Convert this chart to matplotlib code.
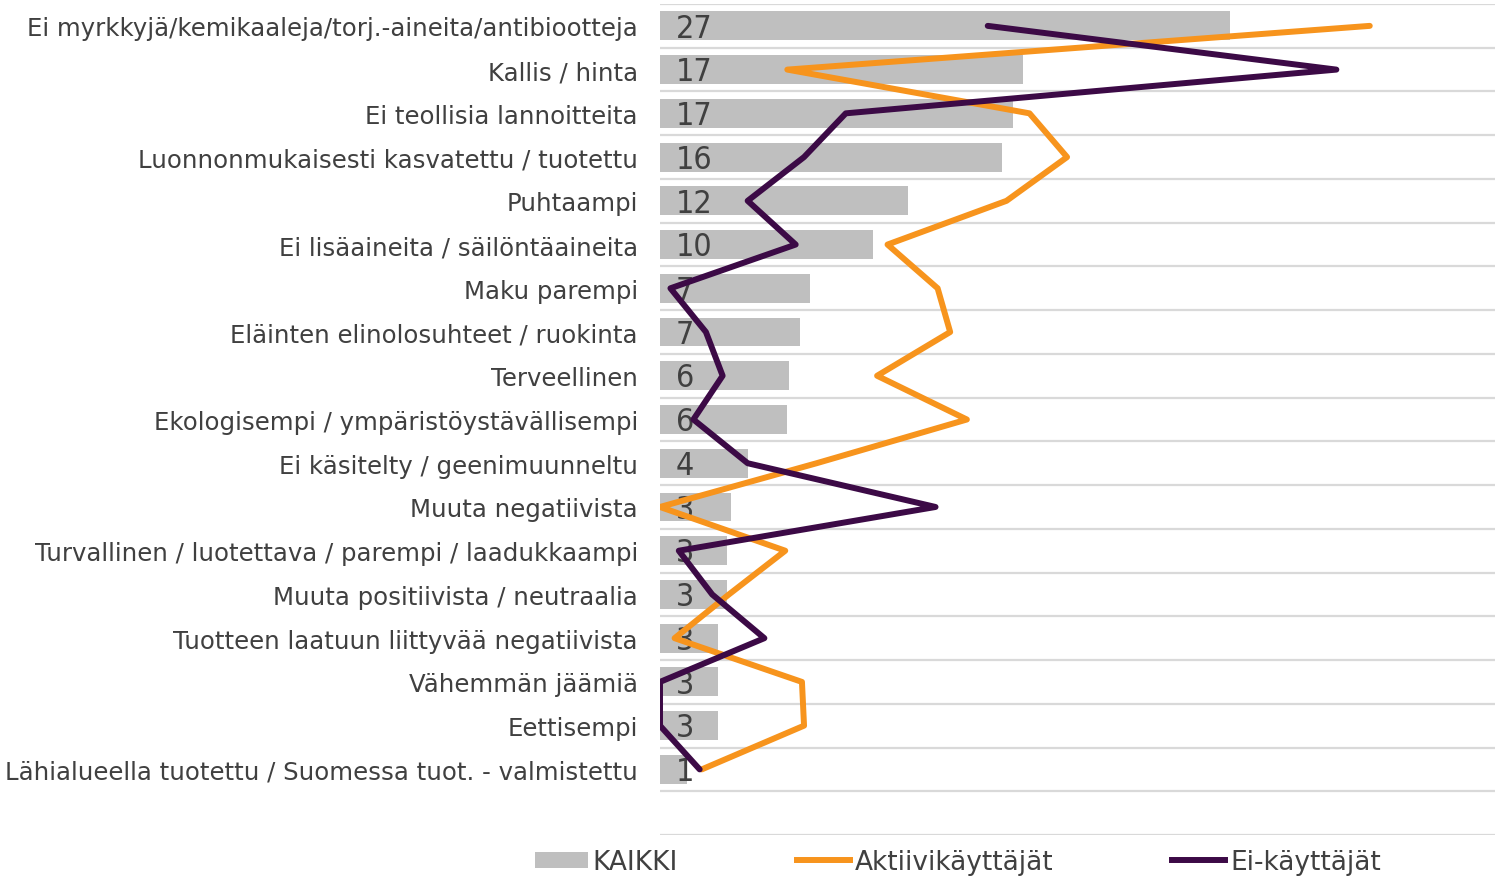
import numpy as np
import matplotlib.pyplot as plt
from matplotlib.patches import Patch
from matplotlib.lines import Line2D

# Kategoriat (ylhäältä alas)
kategoriat = [
    "Ei myrkkyjä/kemikaaleja/torj.-aineita/antibiootteja",
    "Kallis / hinta",
    "Ei teollisia lannoitteita",
    "Luonnonmukaisesti kasvatettu / tuotettu",
    "Puhtaampi",
    "Ei lisäaineita / säilöntäaineita",
    "Maku parempi",
    "Eläinten elinolosuhteet / ruokinta",
    "Terveellinen",
    "Ekologisempi / ympäristöystävällisempi",
    "Ei käsitelty / geenimuunneltu",
    "Muuta negatiivista",
    "Turvallinen / luotettava / parempi / laadukkaampi",
    "Muuta positiivista / neutraalia",
    "Tuotteen laatuun liittyvää negatiivista",
    "Vähemmän jäämiä",
    "Eettisempi",
    "Lähialueella tuotettu / Suomessa tuot. - valmistettu",
]

# Arvot (%) luettu kuvasta
kaikki = [27.3, 17.4, 16.9, 16.4, 11.9, 10.2, 7.2, 6.7, 6.2, 6.1,
          4.2, 3.4, 3.2, 3.2, 2.8, 2.8, 2.8, 1.3]
aktiivi = [34.0, 6.1, 17.7, 19.5, 16.6, 10.9, 13.3, 13.9, 10.4, 14.7,
           7.5, 0.0, 6.0, 3.3, 0.7, 6.8, 6.9, 2.0]
ei_kayttajat = [15.7, 32.4, 8.9, 6.9, 4.2, 6.5, 0.5, 2.2, 3.0, 1.6,
                4.2, 13.2, 0.9, 2.5, 5.0, 0.0, 0.0, 1.9]

harmaa = '#bfbfbf'
oranssi = '#f7941d'
violetti = '#3c0a46'
teksti = '#404040'

fig = plt.figure(figsize=(14.95, 8.79), dpi=100)
ax = fig.add_axes([660 / 1495, 1 - 836 / 879, 835 / 1495, 831 / 879])

y = np.arange(len(kategoriat))

# Vaakaviivat rivien väliin (viimeinen rivi tyhjä)
for k in range(len(kategoriat) + 2):
    ax.axhline(k - 0.5, color='#d9d9d9', lw=1.6, zorder=0)

ax.barh(y, kaikki, height=0.66, color=harmaa, zorder=1)

for yi, v in zip(y, kaikki):
    ax.text(0.75, yi + 0.05, f"{v:.0f}", va='center', ha='left', fontsize=23,
            color=teksti, family='DejaVu Sans', fontstretch='condensed', zorder=2)

ax.plot(aktiivi, y, color=oranssi, lw=4.3, solid_capstyle='round', zorder=3)
ax.plot(ei_kayttajat, y, color=violetti, lw=4.3, solid_capstyle='round', zorder=4)

ax.set_xlim(0, 40)
ax.set_ylim(len(kategoriat) + 0.5, -0.5)
ax.set_yticks(y)
ax.set_yticklabels(kategoriat, fontsize=17.6, color=teksti)
ax.tick_params(axis='y', length=0, pad=16)
ax.set_xticks([])
for s in ax.spines.values():
    s.set_visible(False)

kahvat = [
    Patch(facecolor=harmaa, edgecolor='none'),
    Line2D([0], [0], color=oranssi, lw=4.3),
    Line2D([0], [0], color=violetti, lw=4.3),
]
fig.legend(kahvat, ["KAIKKI", "Aktiivikäyttäjät", "Ei-käyttäjät"],
           loc='center', bbox_to_anchor=(958 / 1495, 1 - 863 / 879), ncol=3,
           frameon=False, fontsize=19, labelcolor=teksti, handlelength=2.0,
           handleheight=0.55, handletextpad=0.2, columnspacing=4.5)

fig.savefig('out.png', dpi=100)
